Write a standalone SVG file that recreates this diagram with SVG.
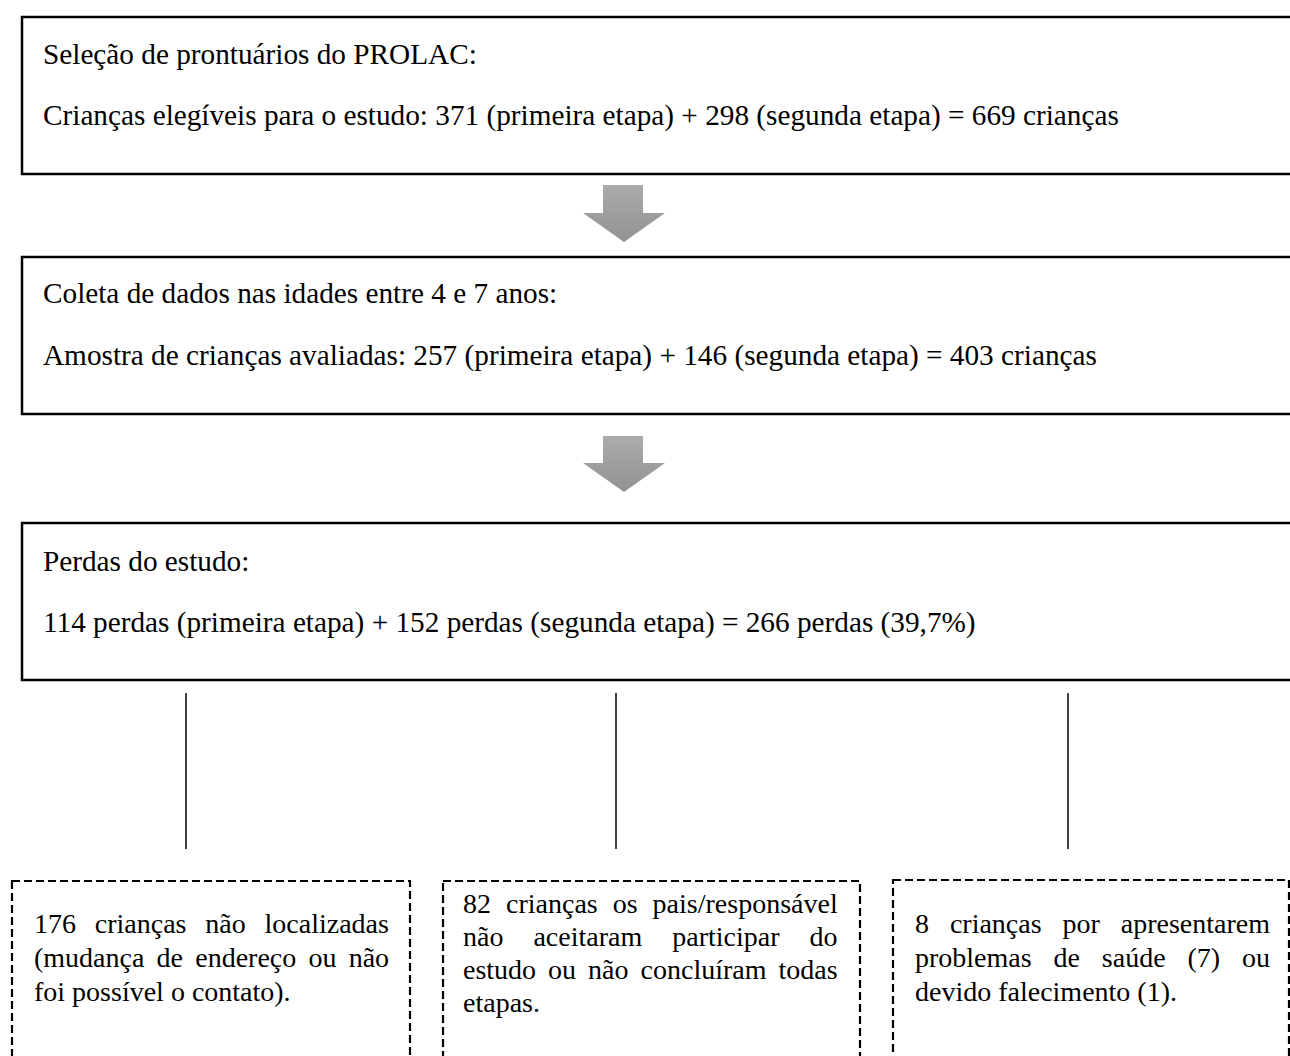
<svg xmlns="http://www.w3.org/2000/svg" width="1290" height="1056" viewBox="0 0 1290 1056">
<defs>
<style>
.box{fill:#fff;stroke:#000;stroke-width:2.5}
.dbox{fill:#fff;stroke:#000;stroke-width:2.2;stroke-dasharray:8 4}
.t{font-family:"Liberation Serif","Times New Roman",serif;font-size:29.25px;fill:#000}
.d{font-family:"Liberation Serif","Times New Roman",serif;font-size:28px;fill:#000}
.ln{stroke:#000;stroke-width:1.5}
.arr{fill:url(#g)}
</style>
<linearGradient id="g" x1="0" y1="0" x2="0" y2="1">
<stop offset="0" stop-color="#ababab"/>
<stop offset="1" stop-color="#929292"/>
</linearGradient>
</defs>
<rect width="1290" height="1056" fill="#fff"/>
<g id="n1">
<rect class="box" x="22" y="17" width="1290" height="157"/>
<text class="t" x="43" y="64">Seleção de prontuários do PROLAC:</text>
<text class="t" x="43" y="125">Crianças elegíveis para o estudo: 371 (primeira etapa) + 298 (segunda etapa) = 669 crianças</text>
</g>
<g id="n2">
<rect class="box" x="22" y="257" width="1290" height="157"/>
<text class="t" x="43" y="303">Coleta de dados nas idades entre 4 e 7 anos:</text>
<text class="t" x="43" y="365">Amostra de crianças avaliadas: 257 (primeira etapa) + 146 (segunda etapa) = 403 crianças</text>
</g>
<g id="n3">
<rect class="box" x="22" y="523" width="1290" height="157"/>
<text class="t" x="43" y="571">Perdas do estudo:</text>
<text class="t" x="43" y="632">114 perdas (primeira etapa) + 152 perdas (segunda etapa) = 266 perdas (39,7%)</text>
</g>
<g id="n4">
<rect class="dbox" x="12" y="881" width="398" height="200"/>
<text class="d" x="34" y="933" word-spacing="11.8">176 crianças não localizadas</text>
<text class="d" x="34" y="967" word-spacing="5.2">(mudança de endereço ou não</text>
<text class="d" x="34" y="1001">foi possível o contato).</text>
</g>
<g id="n5">
<rect class="dbox" x="443" y="881" width="417" height="200"/>
<text class="d" x="463" y="913" word-spacing="8">82 crianças os pais/responsável</text>
<text class="d" x="463" y="946" word-spacing="23">não aceitaram participar do</text>
<text class="d" x="463" y="979" word-spacing="5">estudo ou não concluíram todas</text>
<text class="d" x="463" y="1012">etapas.</text>
</g>
<g id="n6">
<rect class="dbox" x="893" y="880" width="396" height="200"/>
<text class="d" x="915" y="933" word-spacing="13.9">8 crianças por apresentarem</text>
<text class="d" x="915" y="967" word-spacing="14.9">problemas de saúde (7) ou</text>
<text class="d" x="915" y="1001">devido falecimento (1).</text>
</g>
<g id="connectors">
<path class="arr" d="M603 185H643V213H665L624 242L583 213H603Z"/>
<path class="arr" d="M603 436H643V463H665L624 492L583 463H603Z"/>
<line class="ln" x1="186" y1="693" x2="186" y2="849"/>
<line class="ln" x1="616" y1="693" x2="616" y2="849"/>
<line class="ln" x1="1068" y1="693" x2="1068" y2="849"/>
</g>
</svg>
